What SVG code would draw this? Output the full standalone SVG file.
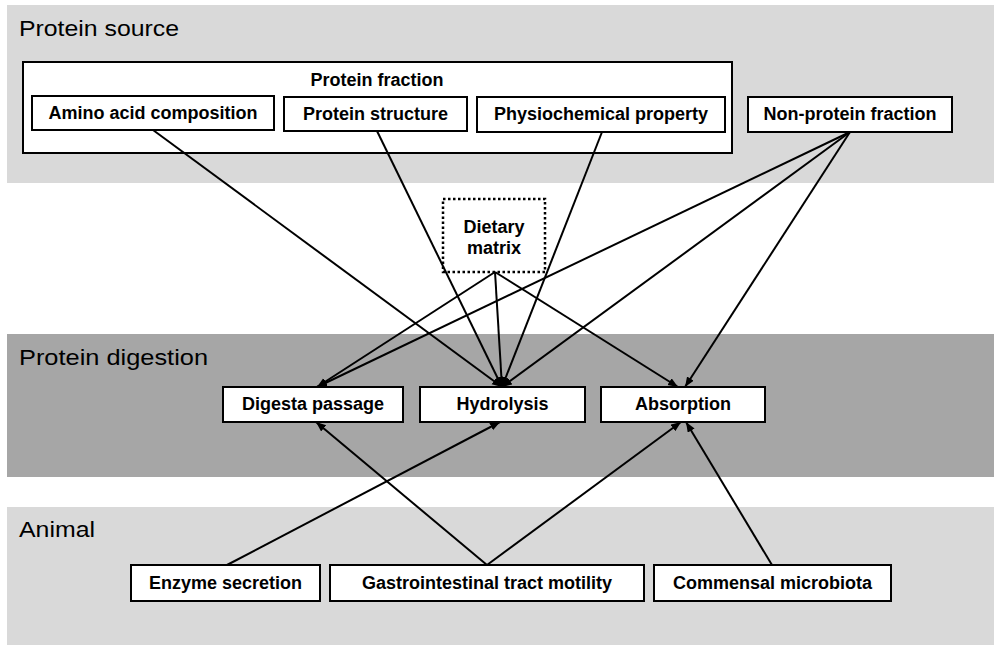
<svg xmlns="http://www.w3.org/2000/svg" width="994" height="648" viewBox="0 0 994 648">
<defs>
<marker id="arr" markerUnits="userSpaceOnUse" markerWidth="11" markerHeight="9" refX="10" refY="4" orient="auto">
<path d="M0,0 L10,4 L0,8 z" fill="#000"/>
</marker>
<style>
.band-title{font-family:"Liberation Sans",Arial,sans-serif;font-size:22px;fill:#000}
.box{fill:#fff;stroke:#000;stroke-width:2}
.lbl{font-family:"Liberation Sans",Arial,sans-serif;font-size:18px;font-weight:bold;fill:#000;text-anchor:middle}
.conn line{stroke:#000;stroke-width:2;fill:none}
.arrow{marker-end:url(#arr)}
</style>
</defs>

<g id="bands">
<rect x="7" y="5" width="987" height="178" fill="#d9d9d9"/>
<rect x="7" y="334" width="987" height="143" fill="#a6a6a6"/>
<rect x="7" y="507" width="987" height="138" fill="#d9d9d9"/>
<text class="band-title" x="19" y="36" textLength="160" lengthAdjust="spacingAndGlyphs">Protein source</text>
<text class="band-title" x="19" y="365" textLength="189" lengthAdjust="spacingAndGlyphs">Protein digestion</text>
<text class="band-title" x="19" y="537" textLength="76" lengthAdjust="spacingAndGlyphs">Animal</text>
</g>

<g id="protein-fraction">
<rect class="box" x="23" y="62" width="709" height="91"/>
<text class="lbl" x="377" y="86">Protein fraction</text>
</g>
<g id="amino-acid-composition">
<rect class="box" x="32" y="96" width="242" height="34"/>
<text class="lbl" x="153" y="119">Amino acid composition</text>
</g>
<g id="protein-structure">
<rect class="box" x="284" y="97" width="183" height="34"/>
<text class="lbl" x="375.5" y="120">Protein structure</text>
</g>
<g id="physiochemical-property">
<rect class="box" x="477" y="97" width="248" height="35"/>
<text class="lbl" x="601" y="120">Physiochemical property</text>
</g>
<g id="non-protein-fraction">
<rect class="box" x="748" y="97" width="204" height="35"/>
<text class="lbl" x="850" y="120">Non-protein fraction</text>
</g>
<g id="dietary-matrix">
<rect x="443" y="199" width="102" height="73" fill="#fff" stroke="#000" stroke-width="2.5" stroke-dasharray="2.5,2.5"/>
<text class="lbl" x="494" y="233">Dietary</text>
<text class="lbl" x="494" y="254">matrix</text>
</g>

<g id="digesta-passage">
<rect class="box" x="223" y="387" width="180" height="35"/>
<text class="lbl" x="313" y="410">Digesta passage</text>
</g>
<g id="hydrolysis">
<rect class="box" x="420" y="387" width="165" height="35"/>
<text class="lbl" x="502.5" y="410">Hydrolysis</text>
</g>
<g id="absorption">
<rect class="box" x="601" y="387" width="164" height="35"/>
<text class="lbl" x="683" y="410">Absorption</text>
</g>

<g id="enzyme-secretion">
<rect class="box" x="131" y="565" width="189" height="36"/>
<text class="lbl" x="225.5" y="589">Enzyme secretion</text>
</g>
<g id="gi-tract-motility">
<rect class="box" x="330" y="565" width="314" height="36"/>
<text class="lbl" x="487" y="589">Gastrointestinal tract motility</text>
</g>
<g id="commensal-microbiota">
<rect class="box" x="654" y="565" width="237" height="36"/>
<text class="lbl" x="772.5" y="589">Commensal microbiota</text>
</g>

<g id="connectors" class="conn">
<line class="arrow" x1="153" y1="130" x2="502" y2="387"/>
<line class="arrow" x1="377" y1="131" x2="502" y2="387"/>
<line class="arrow" x1="602" y1="132" x2="502" y2="387"/>
<line class="arrow" x1="850" y1="132" x2="317" y2="387"/>
<line class="arrow" x1="850" y1="132" x2="502" y2="387"/>
<line class="arrow" x1="850" y1="132" x2="685" y2="387"/>
<line class="arrow" x1="495" y1="272" x2="317" y2="387"/>
<line class="arrow" x1="495" y1="272" x2="502" y2="387"/>
<line class="arrow" x1="495" y1="272" x2="678" y2="387"/>
<line class="arrow" x1="227" y1="565" x2="500" y2="422"/>
<line class="arrow" x1="487" y1="565" x2="316" y2="422"/>
<line class="arrow" x1="487" y1="565" x2="681" y2="422"/>
<line class="arrow" x1="772" y1="565" x2="686" y2="422"/>
</g>
</svg>
